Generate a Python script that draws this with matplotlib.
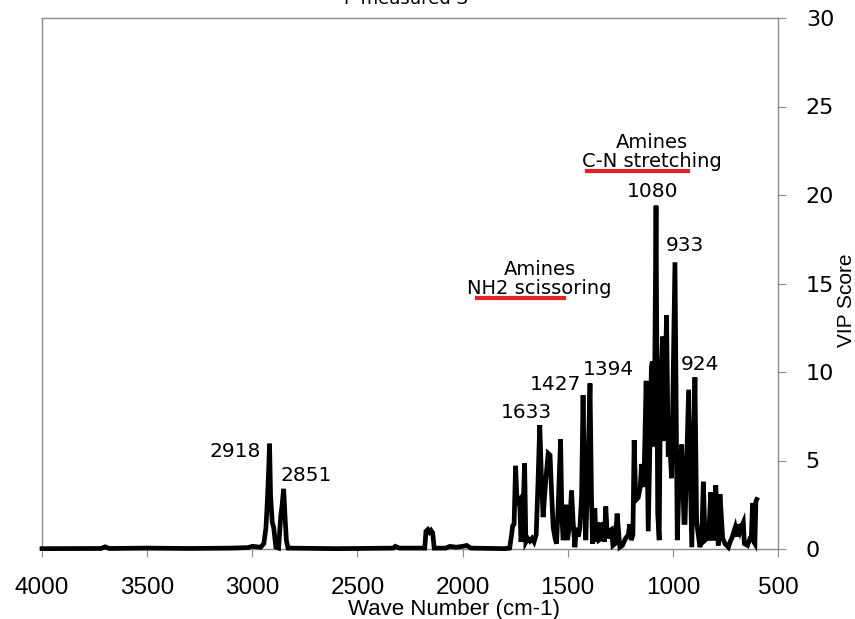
import numpy as np
import matplotlib
matplotlib.use("Agg")
from matplotlib import pyplot as plt

# VIP scores over the FTIR spectrum (wave number in cm-1)
wave_number = [4000, 3720, 3700, 3680, 3500, 3300, 3100, 3020, 3000, 2960, 2945,
               2935, 2928, 2922, 2918, 2913, 2905, 2898, 2888, 2875, 2865, 2858,
               2851, 2845, 2838, 2830, 2600, 2330, 2320, 2300, 2180, 2174, 2165,
               2157, 2150, 2142, 2135, 2080, 2060, 2030, 2000, 1980, 1960, 1800,
               1776, 1767, 1762, 1755, 1748, 1742, 1736, 1729, 1722, 1714, 1705,
               1699, 1690, 1680, 1670, 1660, 1650, 1642, 1633, 1625, 1617, 1605,
               1593, 1584, 1576, 1569, 1560, 1553, 1545, 1534, 1528, 1522, 1515,
               1509, 1501, 1490, 1482, 1474, 1466, 1458, 1450, 1442, 1434, 1427,
               1420, 1414, 1405, 1394, 1387, 1382, 1371, 1365, 1359, 1352, 1340,
               1333, 1326, 1319, 1311, 1304, 1292, 1285, 1275, 1265, 1252, 1240,
               1225, 1212, 1205, 1198, 1190, 1184, 1178, 1173, 1165, 1155, 1149,
               1143, 1138, 1127, 1117, 1112, 1106, 1102, 1097, 1089, 1080, 1072,
               1065, 1059, 1049, 1042, 1030, 1022, 1015, 1006, 990, 979, 970,
               958, 947, 942, 925, 910, 895, 887, 871, 862, 855, 847, 838, 830,
               820, 812, 805, 796, 784, 776, 763, 752, 736, 728, 720, 712, 704,
               697, 689, 680, 672, 665, 660, 645, 633, 627, 621, 615, 610, 605, 601]
vip_score = [0.02, 0.03, 0.12, 0.03, 0.05, 0.03, 0.05, 0.08, 0.15, 0.1, 0.3,
             1.2, 2.8, 4.5, 5.95, 3.0, 1.5, 1.2, 0.1, 0.05, 1.8, 2.5,
             3.4, 2.0, 0.5, 0.05, 0.02, 0.05, 0.15, 0.05, 0.05, 1.0, 1.1,
             0.95, 1.05, 0.9, 0.05, 0.05, 0.15, 0.1, 0.15, 0.2, 0.05, 0.02,
             0.05, 0.8, 1.3, 1.4, 4.7, 3.0, 2.7, 2.8, 0.4, 1.5, 4.85,
             0.4, 0.6, 0.45, 0.6, 0.4, 0.8, 3.5, 7.0, 4.0, 1.8, 3.8,
             5.4, 5.3, 3.0, 1.2, 0.6, 0.3, 2.5, 6.2, 2.0, 0.5, 1.0,
             2.5, 0.5, 1.5, 3.3, 1.5, 0.1, 1.2, 0.7, 1.2, 3.0, 8.7,
             3.0, 0.5, 4.0, 9.35, 3.0, 0.3, 2.3, 0.4, 1.5, 0.5, 0.6,
             1.5, 0.4, 2.4, 0.6, 1.0, 1.1, 0.2, 0.3, 2.0, 0.1, 0.2,
             0.6, 0.8, 1.4, 0.5, 0.8, 6.15, 3.5, 2.8, 2.9, 3.5, 4.8,
             4.2, 3.5, 9.5, 1.0, 4.0, 7.7, 10.3, 10.6, 5.8, 19.4, 2.0,
             0.5, 8.8, 12.0, 6.1, 13.2, 5.2, 6.0, 4.0, 16.2, 0.5, 3.9,
             5.9, 1.5, 1.5, 9.0, 0.1, 9.7, 1.5, 0.1, 1.0, 3.8, 0.5, 0.6, 0.6,
             3.2, 0.6, 0.6, 3.6, 0.2, 3.1, 0.6, 0.3, 0.1, 0.4, 0.6, 0.9, 1.2,
             0.7, 1.4, 1.0, 1.3, 1.5, 0.3, 0.2, 0.6, 0.6, 2.6, 0.4, 0.3, 2.7, 2.8]

# peak labels: text, x, y
peak_labels = ["2918", "2851", "1633", "1427", "1394", "1080", "933", "924"]
peak_label_x = [3082, 2745, 1698, 1556, 1304, 1095, 942, 871]
peak_label_y = [5.53, 4.17, 7.73, 9.3, 10.15, 20.2, 17.15, 10.43]

# band assignments with red underline
band_names = ["Amines\nNH2 scissoring", "Amines\nC-N stretching"]
band_text_x = [1634, 1100]
band_text_y = [15.26, 22.45]
band_line_start = [1932, 1408]
band_line_end = [1518, 928]
band_line_y = [14.16, 21.38]

grey = "#8c8c8c"

fig = plt.figure(figsize=(8.55, 6.19), dpi=100)
ax = fig.add_axes([42 / 855, 1 - 549 / 619, 736 / 855, 531 / 619])

ax.plot(wave_number, vip_score, color="black", lw=3.4, clip_on=False,
        solid_joinstyle="miter", zorder=3)

ax.set_xlim(4000, 500)
ax.set_ylim(0, 30)
ax.set_xticks(np.arange(4000, 499, -500))
ax.set_yticks(np.arange(0, 31, 5))

ax.yaxis.tick_right()
for s in ax.spines.values():
    s.set_color(grey)
    s.set_linewidth(1.0)

ax.tick_params(axis="x", direction="out", length=6, color=grey, pad=14,
               labelsize=17.5)
ax.tick_params(axis="y", direction="out", length=6, color=grey, pad=14,
               labelsize=16)
for lab in ax.get_xticklabels():
    lab.set_fontfamily("Liberation Sans")

fig.text(454 / 855, 1 - 609 / 619, "Wave Number (cm-1)", ha="center",
         va="center", fontsize=16, family="Liberation Sans")
fig.text(846 / 855, 1 - 300 / 619, "VIP Score", ha="center", va="center",
         rotation=90, fontsize=15, family="Liberation Sans")
fig.text(406 / 855, 1 - 4 / 619, "P measured S", ha="center",
         va="baseline", fontsize=13)

for t, x, y in zip(peak_labels, peak_label_x, peak_label_y):
    ax.text(x, y, t, ha="center", va="center", fontsize=14.5)

for t, x, y in zip(band_names, band_text_x, band_text_y):
    ax.text(x, y, t, ha="center", va="center", fontsize=14,
            linespacing=1.0)
for x0, x1, y in zip(band_line_start, band_line_end, band_line_y):
    ax.plot([x0, x1], [y, y], color="#e32228", lw=3)

fig.savefig("out.png", dpi=100)
